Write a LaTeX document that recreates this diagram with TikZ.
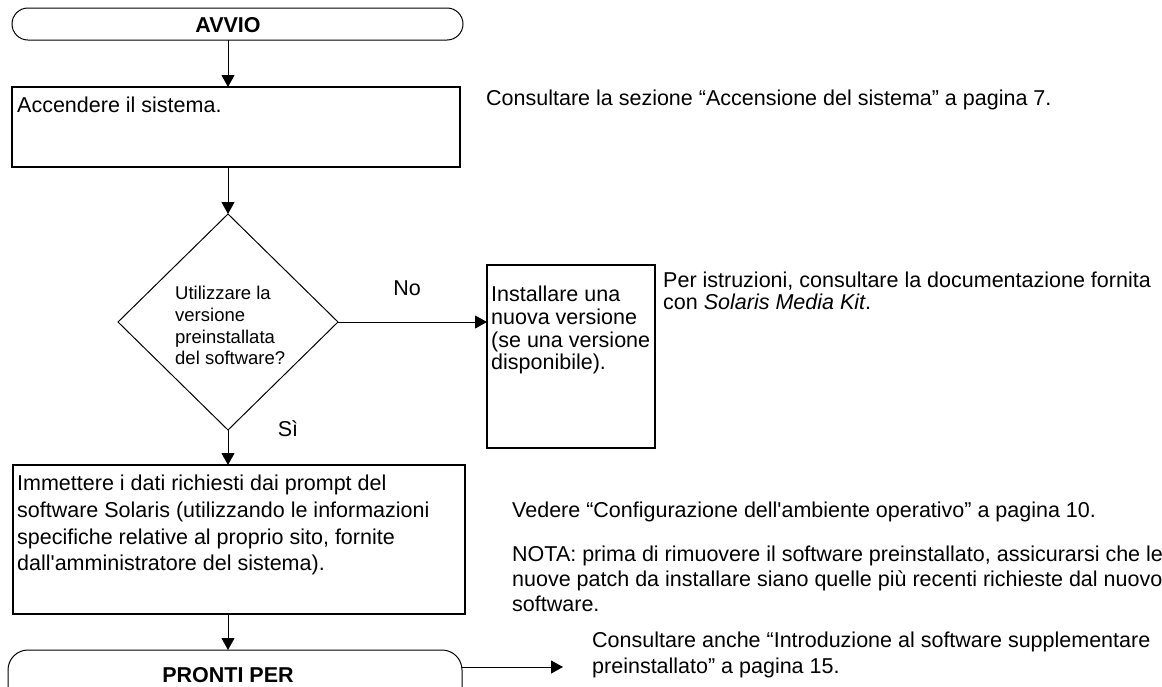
\documentclass[tikz,border=0pt]{standalone}
\usepackage{fontspec}
\setmainfont{Liberation Sans}[Ligatures=TeXOff]
\usetikzlibrary{arrows.meta,shapes.geometric}
\begin{document}
\begin{tikzpicture}[x=1pt,y=-1pt,
  conn/.style={line width=1pt,-{Triangle[length=12pt,width=13pt]}},
  terminal/.style={draw,line width=1pt,rounded corners=16pt,inner sep=0pt,outer sep=0pt},
  stepbox/.style={draw,line width=2pt,inner sep=0pt,outer sep=0pt},
  decision/.style={draw,line width=1pt,diamond,inner sep=0pt,outer sep=0pt},
  big/.style={font=\fontsize{21.5}{26.7}\selectfont},
  txt/.style={inner sep=0pt,anchor=north west,align=left},
  lbl/.style={inner sep=0pt,font=\fontsize{21.5}{26}\selectfont},
  hdr/.style={inner sep=0pt,font=\fontsize{21.5}{26}\selectfont\bfseries}
]
\useasboundingbox (0,0) rectangle (1162,686);
\clip (0,0) rectangle (1162,686);
% shapes
\node[terminal,minimum width=451pt,minimum height=32pt] (avvio) at (237.5,24) {};
\node[hdr] (avviotxt) at (228,25) {AVVIO};
\node[stepbox,minimum width=448pt,minimum height=80pt] (box1) at (236,127) {};
\node[decision,minimum width=220pt,minimum height=216pt] (dec) at (228,322) {};
\node[stepbox,minimum width=168pt,minimum height=183pt] (box2) at (571,356.5) {};
\node[stepbox,minimum width=452pt,minimum height=149pt] (box3) at (239,539.5) {};
\node[terminal,rounded corners=20pt,minimum width=454pt,minimum height=70pt] (pronti) at (235,685) {};
\node[hdr] (prontitxt) at (228,675) {PRONTI PER};
% texts in boxes
\node[txt,big] (t1) at (17,97) {Accendere il sistema.};
\node[txt,font=\fontsize{18.5}{21.7}\selectfont] (tdec) at (175,286) {Utilizzare la\\versione\\preinstallata\\del software?};
\node[txt,font=\fontsize{21.5}{22.7}\selectfont] (t2) at (491,286) {Installare una\\nuova versione\\(se una versione\\disponibile).};
\node[txt,big] (t3) at (17,475) {Immettere i dati richiesti dai prompt del\\software Solaris (utilizzando le informazioni\\specifiche relative al proprio sito, fornite\\dall'amministratore del sistema).};
% side notes
\node[txt,big] (n1) at (486,90) {Consultare la sezione “Accensione del sistema” a pagina 7.};
\node[txt,font=\fontsize{21.5}{22}\selectfont] (n2) at (663,272) {Per istruzioni, consultare la documentazione fornita\\con \textit{Solaris Media Kit}.};
\node[txt,big] (n3) at (512,502) {Vedere “Configurazione dell'ambiente operativo” a pagina 10.};
\node[txt,font=\fontsize{21.5}{25}\selectfont] (n4) at (512,546) {NOTA: prima di rimuovere il software preinstallato, assicurarsi che le\\nuove patch da installare siano quelle più recenti richieste dal nuovo\\software.};
\node[txt,font=\fontsize{21.5}{26}\selectfont] (n5) at (592,632) {Consultare anche “Introduzione al software supplementare\\preinstallato” a pagina 15.};
% labels
\node[lbl] (no) at (407,288) {No};
\node[lbl] (si) at (288,429) {Sì};
% connectors
\coordinate (cend) at (563,667);
\draw[conn] (dec.north |- avvio.south) -- (dec.north |- box1.north);
\draw[conn] (dec.north |- box1.south) -- (dec.north);
\draw[conn] (dec.east) -- (dec.east -| box2.west);
\draw[conn] (dec.south) -- (dec.south |- box3.north);
\draw[conn] (dec.south |- box3.south) -- (dec.south |- pronti.north);
\draw[conn] (pronti.east |- cend) -- (cend);
\end{tikzpicture}
\end{document}
